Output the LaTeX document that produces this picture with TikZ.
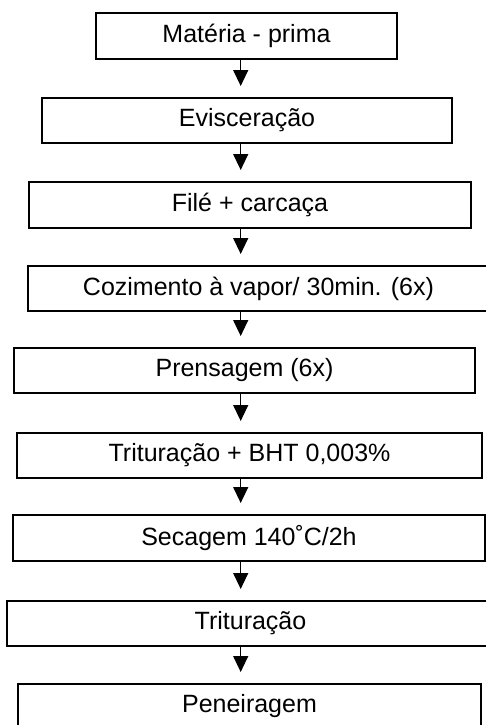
\documentclass[tikz,border=0pt]{standalone}
\usepackage{fontspec}
\setmainfont{Liberation Sans}
\usetikzlibrary{arrows.meta}
\begin{document}
\begin{tikzpicture}[x=0.5pt,y=-0.5pt,
  stepbox/.style={draw, line width=1pt, inner sep=0pt, font=\fontsize{12.5pt}{15pt}\selectfont},
  flow/.style={-{Triangle[width=7.5pt,length=8pt]}, line width=0.65pt, shorten >=5.5pt}]
\useasboundingbox (0,0) rectangle (486,725);
\clip (0,0) rectangle (486,725);
\node[stepbox, minimum width=150.5pt, minimum height=23pt]   (b1) at (246.5,36)   {Matéria - prima};
\node[stepbox, minimum width=205pt,   minimum height=22.5pt] (b2) at (247,120.5)  {Evisceração};
\node[stepbox, minimum width=221pt,   minimum height=23pt]   (b3) at (250,205)    {Filé + carcaça};
\node[stepbox, minimum width=230.5pt, minimum height=22.5pt] (b4) at (258.5,288.5){Cozimento à vapor/ 30min. (6x)};
\node[stepbox, minimum width=230.5pt, minimum height=22.5pt] (b5) at (244.5,370.5){Prensagem (6x)};
\node[stepbox, minimum width=232.5pt, minimum height=22.5pt] (b6) at (249.5,455.5){Trituração + BHT 0,003\%};
\node[stepbox, minimum width=236pt,   minimum height=23pt]   (b7) at (249,538)    {Secagem 140˚C/2h};
\node[stepbox, minimum width=243.5pt, minimum height=22.5pt] (b8) at (250.5,623.5){Trituração};
\node[stepbox, minimum width=231.5pt, minimum height=22.5pt] (b9) at (249.5,706.5){Peneiragem};
\coordinate (ax) at (240.7,0);
\draw[flow] (ax |- b1.south) -- (ax |- b2.north);
\draw[flow] (ax |- b2.south) -- (ax |- b3.north);
\draw[flow] (ax |- b3.south) -- (ax |- b4.north);
\draw[flow] (ax |- b4.south) -- (ax |- b5.north);
\draw[flow] (ax |- b5.south) -- (ax |- b6.north);
\draw[flow] (ax |- b6.south) -- (ax |- b7.north);
\draw[flow] (ax |- b7.south) -- (ax |- b8.north);
\draw[flow] (ax |- b8.south) -- (ax |- b9.north);
\end{tikzpicture}
\end{document}
